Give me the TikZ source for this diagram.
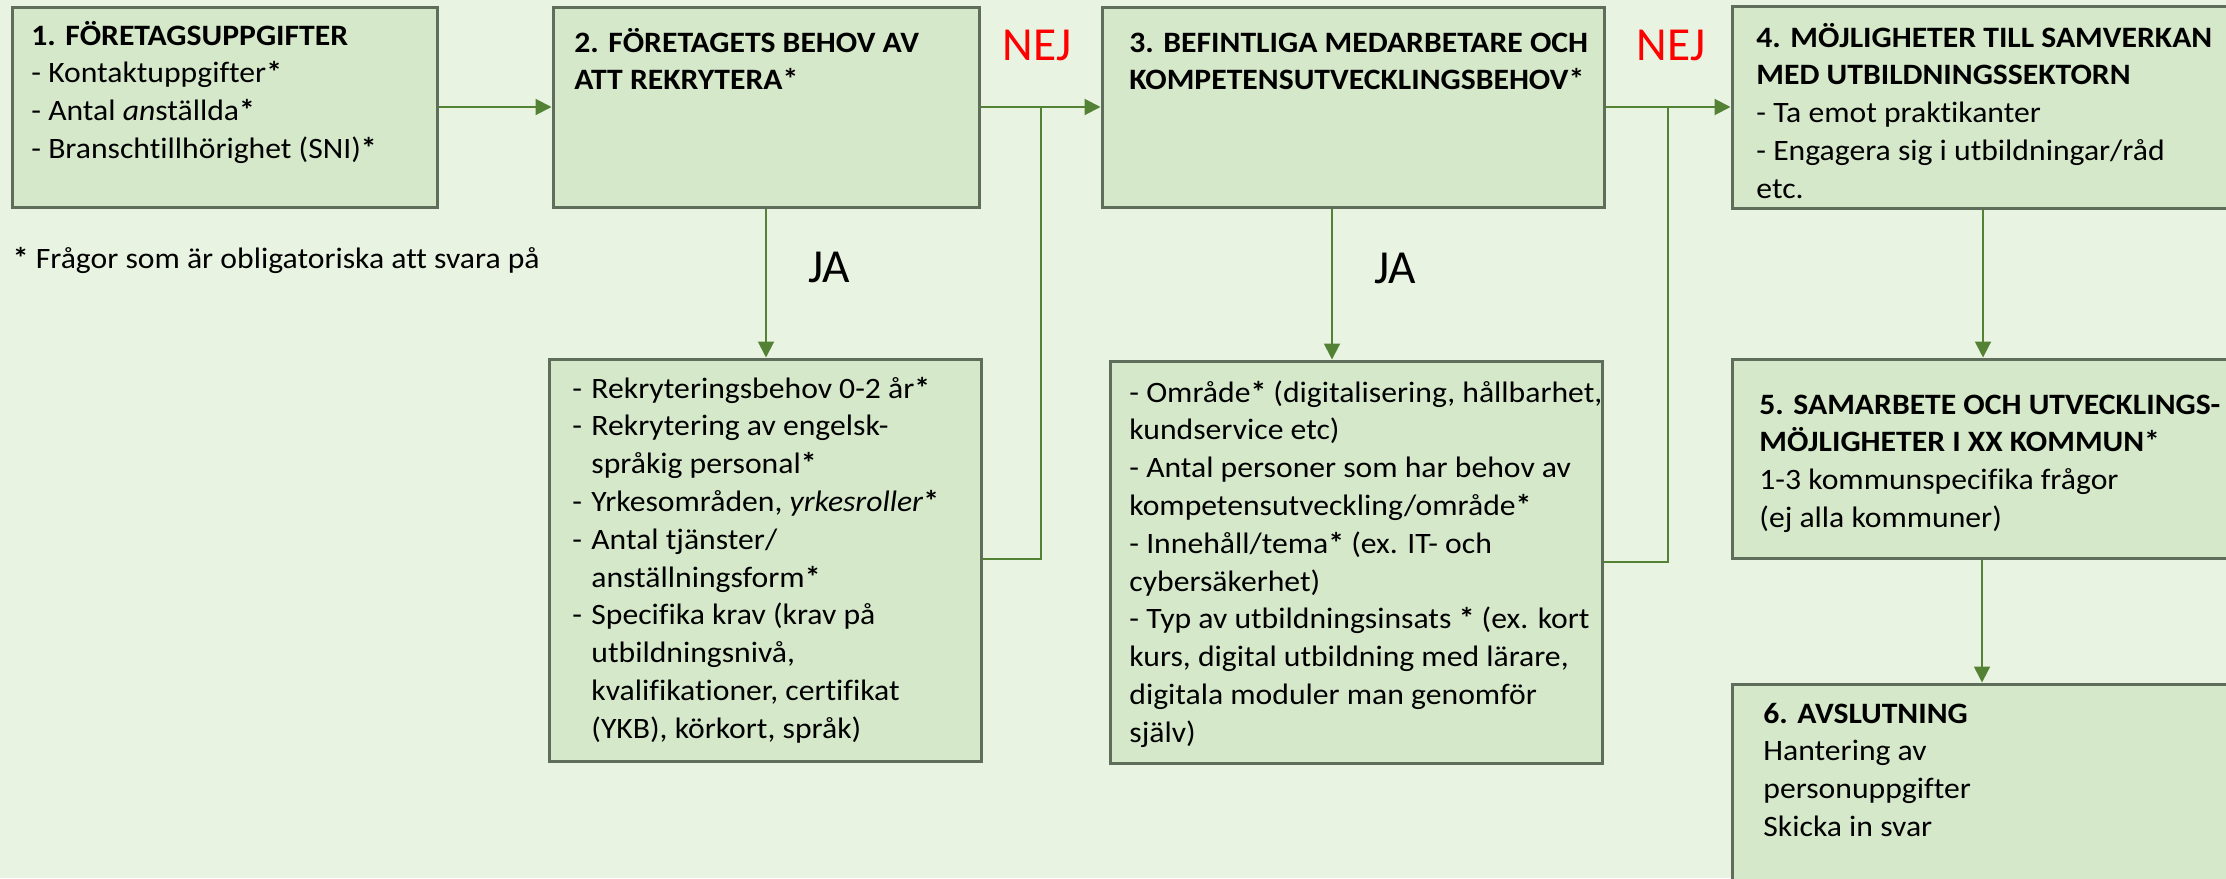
\documentclass[tikz,border=0pt]{standalone}
\usepackage{fontspec}
\setmainfont{Carlito}[FakeStretch=1.07,Ligatures=NoCommon]
\newfontfamily\lblfont{Carlito}
\usetikzlibrary{fit,arrows.meta}
\definecolor{bgc}{RGB}{233,243,225}
\definecolor{boxfill}{RGB}{213,232,202}
\definecolor{boxline}{RGB}{94,110,90}
\definecolor{arr}{RGB}{84,130,53}
\definecolor{nejred}{RGB}{255,0,0}
\newcommand{\bodyfont}{\fontsize{14.8pt}{18.9pt}\selectfont}
\newcommand{\dsh}{\makebox[9.5pt][l]{-}}
\newcommand{\ind}{\hspace*{9.5pt}}
\tikzset{
  boxnode/.style={draw=boxline, line width=1.5pt, fill=boxfill, inner sep=0pt, rectangle},
  txt/.style={anchor=base west, inner sep=0pt, font=\bodyfont, text=black},
  lbl/.style={anchor=base, inner sep=0pt, font=\lblfont\fontsize{23.7pt}{28pt}\selectfont},
  conn/.style={draw=arr, line width=1pt},
  arrowc/.style={conn, -{Triangle[length=8pt,width=8pt]}},
}
\begin{document}
\begin{tikzpicture}[x=0.5pt,y=-0.5pt]
\fill[bgc] (0,0) rectangle (2226,878);
\useasboundingbox (0,0) rectangle (2226,878);
\clip (0,0) rectangle (2226,878);

% boxes
\node[boxnode, fit={(12,7) (437,207)}] (b1) {};
\node[boxnode, fit={(553,7) (979,207)}] (b2) {};
\node[boxnode, fit={(1102,7) (1604,207)}] (b3) {};
\node[boxnode, fit={(1732,6) (2250,208)}] (b4) {};
\node[boxnode, fit={(549,359) (981,761)}] (b2s) {};
\node[boxnode, fit={(1110,361) (1602,763)}] (b3s) {};
\node[boxnode, fit={(1732,359) (2250,558)}] (b5) {};
\node[boxnode, fit={(1732,684) (2250,900)}] (b6) {};

% texts
\node[txt] (t1) at (31,45) {\parbox[t]{300pt}{\textbf{1. FÖRETAGSUPPGIFTER}\\
- Kontaktuppgifter\textbf{*}\\
- Antal \textit{an}ställda\textbf{*}\\
- Branschtillhörighet (SNI)\textbf{*}}};
\node[txt] (fn) at (12.5,268) {\textbf{*} Frågor som är obligatoriska att svara på};
\node[txt] (t2) at (574,52) {\parbox[t]{300pt}{\textbf{2. FÖRETAGETS BEHOV AV}\\
\textbf{ATT REKRYTERA*}}};
\node[txt] (t3) at (1129,52) {\parbox[t]{300pt}{\textbf{3. BEFINTLIGA MEDARBETARE OCH}\\
\textbf{KOMPETENSUTVECKLINGSBEHOV*}}};
\node[txt] (t4) at (1756,47) {\parbox[t]{300pt}{\textbf{4. MÖJLIGHETER TILL SAMVERKAN}\\
\textbf{MED UTBILDNINGSSEKTORN}\\
- Ta emot praktikanter\\
- Engagera sig i utbildningar/råd\\
etc.}};
\node[txt] (t2s) at (572,398) {\parbox[t]{300pt}{\dsh Rekryteringsbehov 0-2 år\textbf{*}\\
\dsh Rekrytering av engelsk-\\
\ind språkig personal\textbf{*}\\
\dsh Yrkesområden, \textit{yrkesroller}\textbf{*}\\
\dsh Antal tjänster/\\
\ind anställningsform\textbf{*}\\
\dsh Specifika krav (krav på\\
\ind utbildningsnivå,\\
\ind kvalifikationer, certifikat\\
\ind (YKB), körkort, språk)}};
\node[txt] (t3s) at (1129,402) {\parbox[t]{300pt}{- Område\textbf{*} (digitalisering, hållbarhet,\\
kundservice etc)\\
- Antal personer som har behov av\\
kompetensutveckling/område\textbf{*}\\
- Innehåll/tema\textbf{*} (ex. IT- och\\
cybersäkerhet)\\
- Typ av utbildningsinsats \textbf{*} (ex. kort\\
kurs, digital utbildning med lärare,\\
digitala moduler man genomför\\
själv)}};
\node[txt] (t5) at (1759,414) {\parbox[t]{300pt}{\textbf{5. SAMARBETE OCH UTVECKLINGS-}\\
\textbf{MÖJLIGHETER I XX KOMMUN*}\\
1-3 kommunspecifika frågor\\
(ej alla kommuner)}};
\node[txt] (t6) at (1763,723) {\parbox[t]{300pt}{\textbf{6. AVSLUTNING}\\
Hantering av\\
personuppgifter\\
Skicka in svar}};

% labels
\node[lbl, text=nejred] (nej1) at (1037,60) {NEJ};
\node[lbl, text=nejred] (nej2) at (1671,60) {NEJ};
\node[lbl] (ja1) at (829,282) {JA};
\node[lbl] (ja2) at (1395,283) {JA};

% junction coordinates
\coordinate (j1) at (1041,107);
\coordinate (j2) at (1668,107);

% connectors
\draw[arrowc] (b1.east) -- (b2.west);
\draw[arrowc] (b2.east) -- (b3.west);
\draw[arrowc] (b3.east) -- (b4.west);
\draw[arrowc] (b2.south -| 766,0) -- (b2s.north -| 766,0);
\draw[arrowc] (b3.south -| 1332,0) -- (b3s.north -| 1332,0);
\draw[arrowc] (b4.south -| 1983,0) -- (b5.north -| 1983,0);
\draw[arrowc] (b5.south -| 1982,0) -- (b6.north -| 1982,0);
\draw[conn] (b2s.east |- 0,559) -| (j1);
\draw[conn] (b3s.east |- 0,562) -| (j2);
\end{tikzpicture}
\end{document}
